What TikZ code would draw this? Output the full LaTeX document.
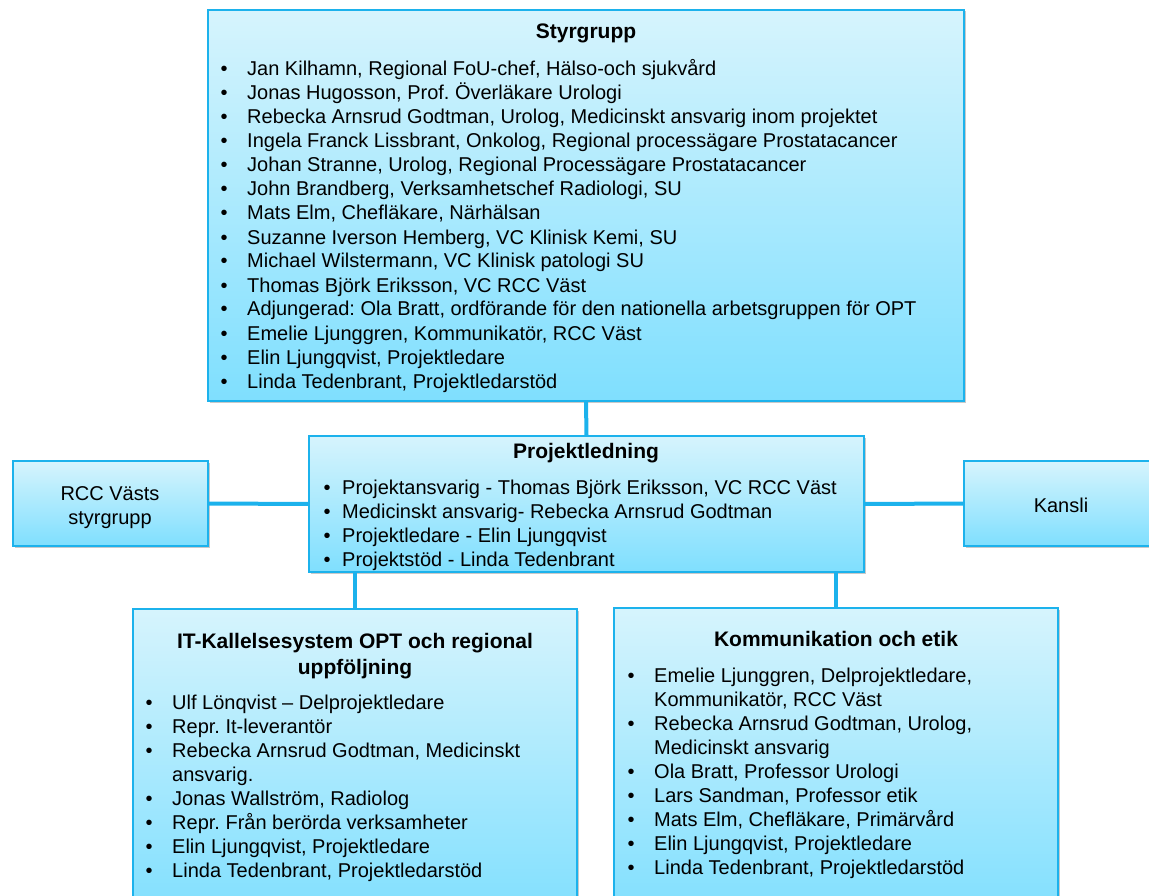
\documentclass[tikz,border=0pt]{standalone}
\usepackage{fontspec}
\setmainfont{Liberation Sans}
\usetikzlibrary{shadows}
\frenchspacing
\definecolor{boxtop}{RGB}{214,244,253}
\definecolor{boxbot}{RGB}{127,223,254}
\definecolor{boxline}{RGB}{28,178,236}
\tikzset{
 orgbox/.style={draw=boxline, line width=1.5pt, top color=boxtop, bottom color=boxbot, rectangle, inner sep=0pt,
   drop shadow={shadow xshift=1.5pt, shadow yshift=-1.5pt, opacity=0.3, fill=black!70}},
 link/.style={draw=boxline, line width=4pt},
 txt/.style={anchor=base west, inner sep=0pt, font=\fontsize{20}{24}\selectfont},
 ctxt/.style={anchor=base, inner sep=0pt, font=\fontsize{20}{24}\selectfont},
 ttl/.style={anchor=base, inner sep=0pt, font=\fontsize{21}{24}\selectfont\bfseries},
 bul/.style={anchor=base, inner sep=0pt, font=\fontsize{20}{24}\selectfont},
}
\begin{document}
\begin{tikzpicture}[x=1pt,y=-1pt]
\useasboundingbox (0,0) rectangle (1149,896);
\clip (0,0) rectangle (1149,896);
% boxes
\node[orgbox, minimum width=756pt, minimum height=391pt] (styr) at (586,205.5) {};
\node[orgbox, minimum width=555pt, minimum height=136pt] (proj) at (586.5,504) {};
\node[orgbox, minimum width=195pt, minimum height=85pt] (rcc) at (110.5,503.5) {};
\node[orgbox, minimum width=196pt, minimum height=85pt] (kansli) at (1062,503.5) {};
\node[orgbox, minimum width=444pt, minimum height=311pt] (it) at (355,764.5) {};
\node[orgbox, minimum width=444pt, minimum height=312pt] (komm) at (836,764) {};
% connectors
\draw[link] (styr.south) -- (proj.north);
\draw[link] (rcc.east) -- (proj.west);
\draw[link] (proj.east) -- (kansli.west);
\draw[link] (it.north |- proj.south) -- (it.north);
\draw[link] (komm.north |- proj.south) -- (komm.north);
% Styrgrupp
\node[ttl] (styrT) at (586,39) {Styrgrupp};
\foreach \t [count=\i from 0] in {
 {Jan Kilhamn, Regional FoU-chef, Hälso-och sjukvård},
 {Jonas Hugosson, Prof. Överläkare Urologi},
 {Rebecka Arnsrud Godtman, Urolog, Medicinskt ansvarig inom projektet},
 {Ingela Franck Lissbrant, Onkolog, Regional processägare Prostatacancer},
 {Johan Stranne, Urolog, Regional Processägare Prostatacancer},
 {John Brandberg, Verksamhetschef Radiologi, SU},
 {Mats Elm, Chefläkare, Närhälsan},
 {Suzanne Iverson Hemberg, VC Klinisk Kemi, SU},
 {Michael Wilstermann, VC Klinisk patologi SU},
 {Thomas Björk Eriksson, VC RCC Väst},
 {Adjungerad: Ola Bratt, ordförande för den nationella arbetsgruppen för OPT},
 {Emelie Ljunggren, Kommunikatör, RCC Väst},
 {Elin Ljungqvist, Projektledare},
 {Linda Tedenbrant, Projektledarstöd}}{
 \node[bul] (sb\i) at (224,76+24*\i) {•};
 \node[txt] (st\i) at (247,76+24*\i) {\t};
}
% Projektledning
\node[ttl] (projT) at (586,458) {Projektledning};
\foreach \t [count=\i from 0] in {
 {Projektansvarig - Thomas Björk Eriksson, VC RCC Väst},
 {Medicinskt ansvarig- Rebecka Arnsrud Godtman},
 {Projektledare - Elin Ljungqvist},
 {Projektstöd - Linda Tedenbrant}}{
 \node[bul] (pb\i) at (327,494+24*\i) {•};
 \node[txt] (pt\i) at (342,494+24*\i) {\t};
}
% side boxes
\node[ctxt] (rcc1) at (110,500) {RCC Västs};
\node[ctxt] (rcc2) at (110,524) {styrgrupp};
\node[ctxt] (kansliT) at (1061,512) {Kansli};
% IT box
\node[ttl] (itT1) at (355,648) {IT-Kallelsesystem OPT och regional};
\node[ttl] (itT2) at (355,674) {uppföljning};
\foreach \b/\t [count=\i from 0] in {
 1/{Ulf Lönqvist – Delprojektledare},
 1/{Repr. It-leverantör},
 1/{Rebecka Arnsrud Godtman, Medicinskt},
 0/{ansvarig.},
 1/{Jonas Wallström, Radiolog},
 1/{Repr. Från berörda verksamheter},
 1/{Elin Ljungqvist, Projektledare},
 1/{Linda Tedenbrant, Projektledarstöd}}{
 \ifnum\b=1 \node[bul] (ib\i) at (149,709+24*\i) {•};\fi
 \node[txt] (itx\i) at (172,709+24*\i) {\t};
}
% Kommunikation box
\node[ttl] (kommT) at (836,646) {Kommunikation och etik};
\foreach \b/\t [count=\i from 0] in {
 1/{Emelie Ljunggren, Delprojektledare,},
 0/{Kommunikatör, RCC Väst},
 1/{Rebecka Arnsrud Godtman, Urolog,},
 0/{Medicinskt ansvarig},
 1/{Ola Bratt, Professor Urologi},
 1/{Lars Sandman, Professor etik},
 1/{Mats Elm, Chefläkare, Primärvård},
 1/{Elin Ljungqvist, Projektledare},
 1/{Linda Tedenbrant, Projektledarstöd}}{
 \ifnum\b=1 \node[bul] (kb\i) at (631,682+24*\i) {•};\fi
 \node[txt] (kx\i) at (654,682+24*\i) {\t};
}
\end{tikzpicture}
\end{document}
